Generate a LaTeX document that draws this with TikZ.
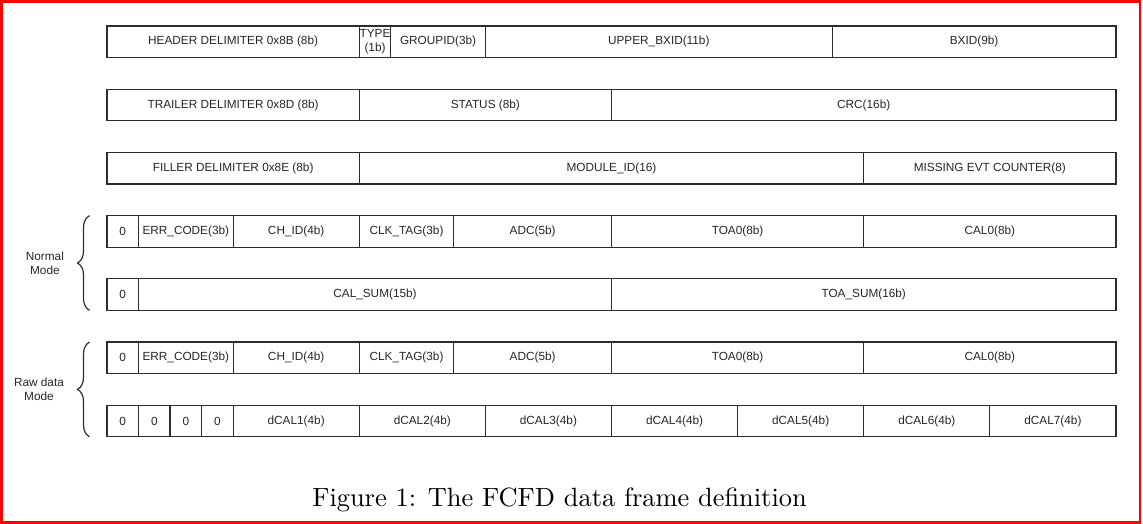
\documentclass[tikz,border=0pt]{standalone}
\usepackage{fontspec}
\usepackage{xcolor}
\usetikzlibrary{positioning,calc,decorations.pathreplacing}
\newfontfamily\fieldfont{Liberation Sans}
\newfontfamily\capfont{lmroman10-regular.otf}
\definecolor{framered}{RGB}{255,0,0}
\definecolor{fieldline}{RGB}{45,45,45}

\begin{document}
\begin{tikzpicture}[
    x=1pt, y=-1pt,
    field/.style={rectangle, draw=fieldline, line width=1.2pt, minimum width={#1*31.53pt}, minimum height=31.5pt, inner sep=0pt, outer sep=0pt, align=center, font=\fieldfont\fontsize{11.8}{14}\selectfont, text=black!85},
    field/.default=1,
    modelabel/.style={align=center, inner sep=0pt, font=\fieldfont\fontsize{11.8}{14.3}\selectfont, text=black!85},
    modebrace/.style={decorate, decoration={brace, amplitude=12pt}, line width=1.2pt, draw=fieldline},
]
\useasboundingbox (0,0) rectangle (1143,524);
\draw[framered, line width=2.6pt] (1.3,1.3) rectangle (1140,522.7);

% Header word
\node[field=8, anchor=west] (hdr) at (107,41.8) {HEADER DELIMITER 0x8B (8b)};
\node[field=1, right=0pt of hdr] (type) {TYPE\\(1b)};
\node[field=3, right=0pt of type] (grp) {GROUPID(3b)};
\node[field=11, right=0pt of grp] (ubx) {UPPER\_BXID(11b)};
\node[field=9, right=0pt of ubx] (bx) {BXID(9b)};

% Trailer word
\node[field=8, below=31.7pt of hdr] (trl) {TRAILER DELIMITER 0x8D (8b)};
\node[field=8, right=0pt of trl] (stat) {STATUS (8b)};
\node[field=16, right=0pt of stat] (crc) {CRC(16b)};

% Filler word
\node[field=8, below=31.7pt of trl] (fil) {FILLER DELIMITER 0x8E (8b)};
\node[field=16, right=0pt of fil] (mod) {MODULE\_ID(16)};
\node[field=8, right=0pt of mod] (miss) {MISSING EVT COUNTER(8)};

% Normal mode
\node[field=1, below=31.7pt of fil.south west, anchor=north west] (nz) {0};
\node[field=3, right=0pt of nz] (nerr) {ERR\_CODE(3b)};
\node[field=4, right=0pt of nerr] (nch) {CH\_ID(4b)};
\node[field=3, right=0pt of nch] (nclk) {CLK\_TAG(3b)};
\node[field=5, right=0pt of nclk] (nadc) {ADC(5b)};
\node[field=8, right=0pt of nadc] (ntoa) {TOA0(8b)};
\node[field=8, right=0pt of ntoa] (ncal) {CAL0(8b)};

\node[field=1, below=31.7pt of nz] (sz) {0};
\node[field=15, right=0pt of sz] (csum) {CAL\_SUM(15b)};
\node[field=16, right=0pt of csum] (tsum) {TOA\_SUM(16b)};

% Raw data mode
\node[field=1, below=31.7pt of sz] (rz) {0};
\node[field=3, right=0pt of rz] (rerr) {ERR\_CODE(3b)};
\node[field=4, right=0pt of rerr] (rch) {CH\_ID(4b)};
\node[field=3, right=0pt of rch] (rclk) {CLK\_TAG(3b)};
\node[field=5, right=0pt of rclk] (radc) {ADC(5b)};
\node[field=8, right=0pt of radc] (rtoa) {TOA0(8b)};
\node[field=8, right=0pt of rtoa] (rcal) {CAL0(8b)};

\node[field=1, below=31.7pt of rz] (dz1) {0};
\node[field=1, right=0pt of dz1] (dz2) {0};
\node[field=1, right=0pt of dz2] (dz3) {0};
\node[field=1, right=0pt of dz3] (dz4) {0};
\node[field=4, right=0pt of dz4] (dcal1) {dCAL1(4b)};
\node[field=4, right=0pt of dcal1] (dcal2) {dCAL2(4b)};
\node[field=4, right=0pt of dcal2] (dcal3) {dCAL3(4b)};
\node[field=4, right=0pt of dcal3] (dcal4) {dCAL4(4b)};
\node[field=4, right=0pt of dcal4] (dcal5) {dCAL5(4b)};
\node[field=4, right=0pt of dcal5] (dcal6) {dCAL6(4b)};
\node[field=4, right=0pt of dcal6] (dcal7) {dCAL7(4b)};

% Mode braces
\draw[modebrace] ([xshift=-17.5pt]sz.south west) -- ([xshift=-17.5pt]nz.north west)
    node[modelabel, midway, left=25pt] (normal) {Normal\\Mode};
\draw[modebrace] ([xshift=-17.5pt]dz1.south west) -- ([xshift=-17.5pt]rz.north west)
    node[modelabel, midway, left=25pt] (raw) {Raw data\\Mode};

% Caption
\node[font=\capfont\fontsize{26.4}{31}\selectfont, anchor=base, inner sep=0pt] (cap) at (559.5,506) {Figure 1: The FCFD data frame definition};

\end{tikzpicture}
\end{document}
